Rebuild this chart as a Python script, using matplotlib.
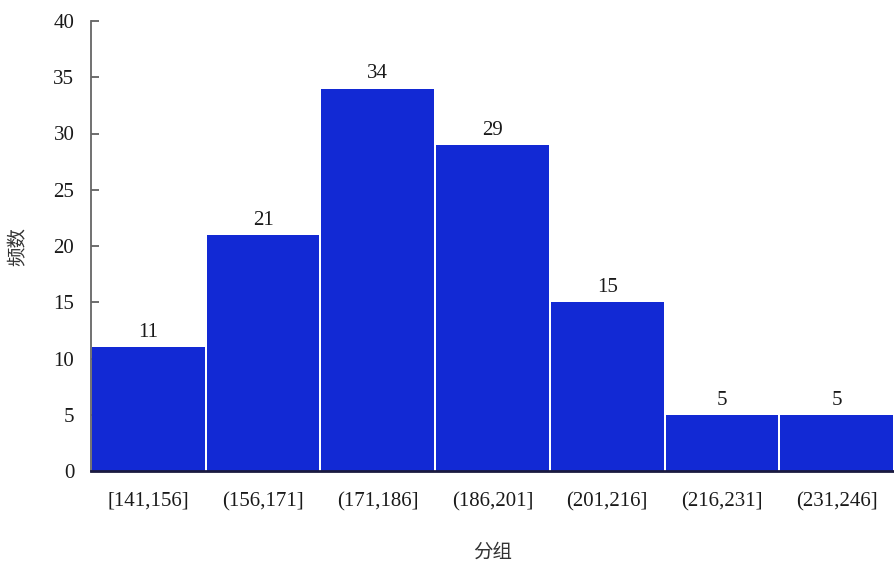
import matplotlib
matplotlib.use("Agg")
import matplotlib.pyplot as plt

# grouped frequency data
groups = ["[141,156]", "(156,171]", "(171,186]", "(186,201]",
          "(201,216]", "(216,231]", "(231,246]"]
counts = [11, 21, 34, 29, 15, 5, 5]
yticks = [0, 5, 10, 15, 20, 25, 30, 35, 40]

plt.rcParams['font.family'] = ['Liberation Serif', 'Noto Sans CJK SC']

fig = plt.figure(figsize=(8.94, 5.63), dpi=100)
ax = fig.add_axes([91 / 894, 92 / 563, 1 - 91 / 894, 450 / 563])

x = list(range(len(groups)))
bars = ax.bar(x, counts, width=0.982, color='#1229d4', linewidth=0, zorder=2)

for b, c in zip(bars, counts):
    ax.text(b.get_x() + b.get_width() / 2, c + 0.45, str(c),
            ha='center', va='bottom', fontsize=15, color='#1a1a1a')

ax.set_xlim(-0.5, len(groups) - 0.5)
ax.set_ylim(0, 40)
ax.set_yticks(yticks)
ax.set_xticks(x)
ax.set_xticklabels(groups, fontsize=15, color='#1a1a1a')
ax.tick_params(axis='x', length=0, pad=15)
ax.tick_params(axis='y', direction='in', length=6, width=1.2, color='#555555',
               labelsize=15, labelcolor='#1a1a1a', pad=12)

for s in ['top', 'right']:
    ax.spines[s].set_visible(False)
ax.spines['left'].set_color('#666666')
ax.spines['left'].set_linewidth(1.3)
ax.spines['bottom'].set_color('#1a1a40')
ax.spines['bottom'].set_linewidth(2)
ax.spines['bottom'].set_zorder(3)

ax.set_ylabel("频数", family=['Noto Sans CJK SC'], fontsize=14,
              color='#333333', labelpad=18)
ax.set_xlabel("分组", family=['Noto Sans CJK SC'], fontsize=14,
              color='#333333', labelpad=22)

fig.savefig("out.png", dpi=100)
